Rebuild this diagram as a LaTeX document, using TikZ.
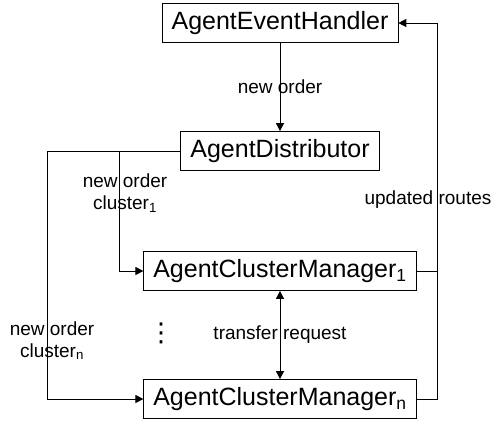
\documentclass[tikz,border=0pt]{standalone}
\usepackage{fontspec}
\setmainfont{Liberation Sans}
\newfontfamily\symbolfont{DejaVu Sans}
\usetikzlibrary{arrows.meta,positioning}

\tikzset{
  agent/.style={draw, line width=0.8pt, inner xsep=9.5pt, minimum height=39pt,
                font=\fontsize{25}{29}\selectfont},
  msg/.style={font=\fontsize{19}{21.5}\selectfont, align=center, inner sep=1pt},
}

\begin{document}
\begin{tikzpicture}[>={Triangle[length=8pt,width=8pt]}, line width=0.8pt, node distance=128pt]
  \useasboundingbox (0,0) rectangle (493pt,-423pt);

  \node[agent] (aeh) at (280pt,-23pt) {AgentEventHandler};
  \node[agent] (ad)   [below of=aeh] {AgentDistributor};
  \node[agent] (acm1) [below of=ad, node distance=120pt] {AgentClusterManager\textsubscript{1}};
  \node[agent] (acmn) [below of=acm1] {AgentClusterManager\textsubscript{n}};

  % bends of the connectors
  \coordinate (b1) at (119pt,-151pt);
  \coordinate (b2) at (47pt,-151pt);
  \coordinate (c1) at (437pt,-271pt);
  \coordinate (cn) at (437pt,-399pt);

  \draw[->] (aeh) -- node[msg] (neworder) {new order} (ad);
  \draw[->] (ad.west) -- (b1) |- (acm1.west);
  \draw[->] (ad.west) -- (b2) |- (acmn.west);
  \draw (acm1.east) -- (c1);
  \draw[->] (acmn.east) -- (cn) |- (aeh.east);
  \draw[<->] (acm1) -- node[msg] (transfer) {transfer request} (acmn);

  \node[msg] (order1) at (125pt,-193pt) {new order\\cluster\textsubscript{1}};
  \node[msg] (ordern) at (52pt,-341pt) {new order\\cluster\textsubscript{n}};
  \node[msg] (routes) at (428pt,-200pt) {updated routes};
  \node[inner sep=0pt, font=\symbolfont\fontsize{26}{30}\selectfont] (dots) at (161pt,-333pt) {⋮};
\end{tikzpicture}
\end{document}
